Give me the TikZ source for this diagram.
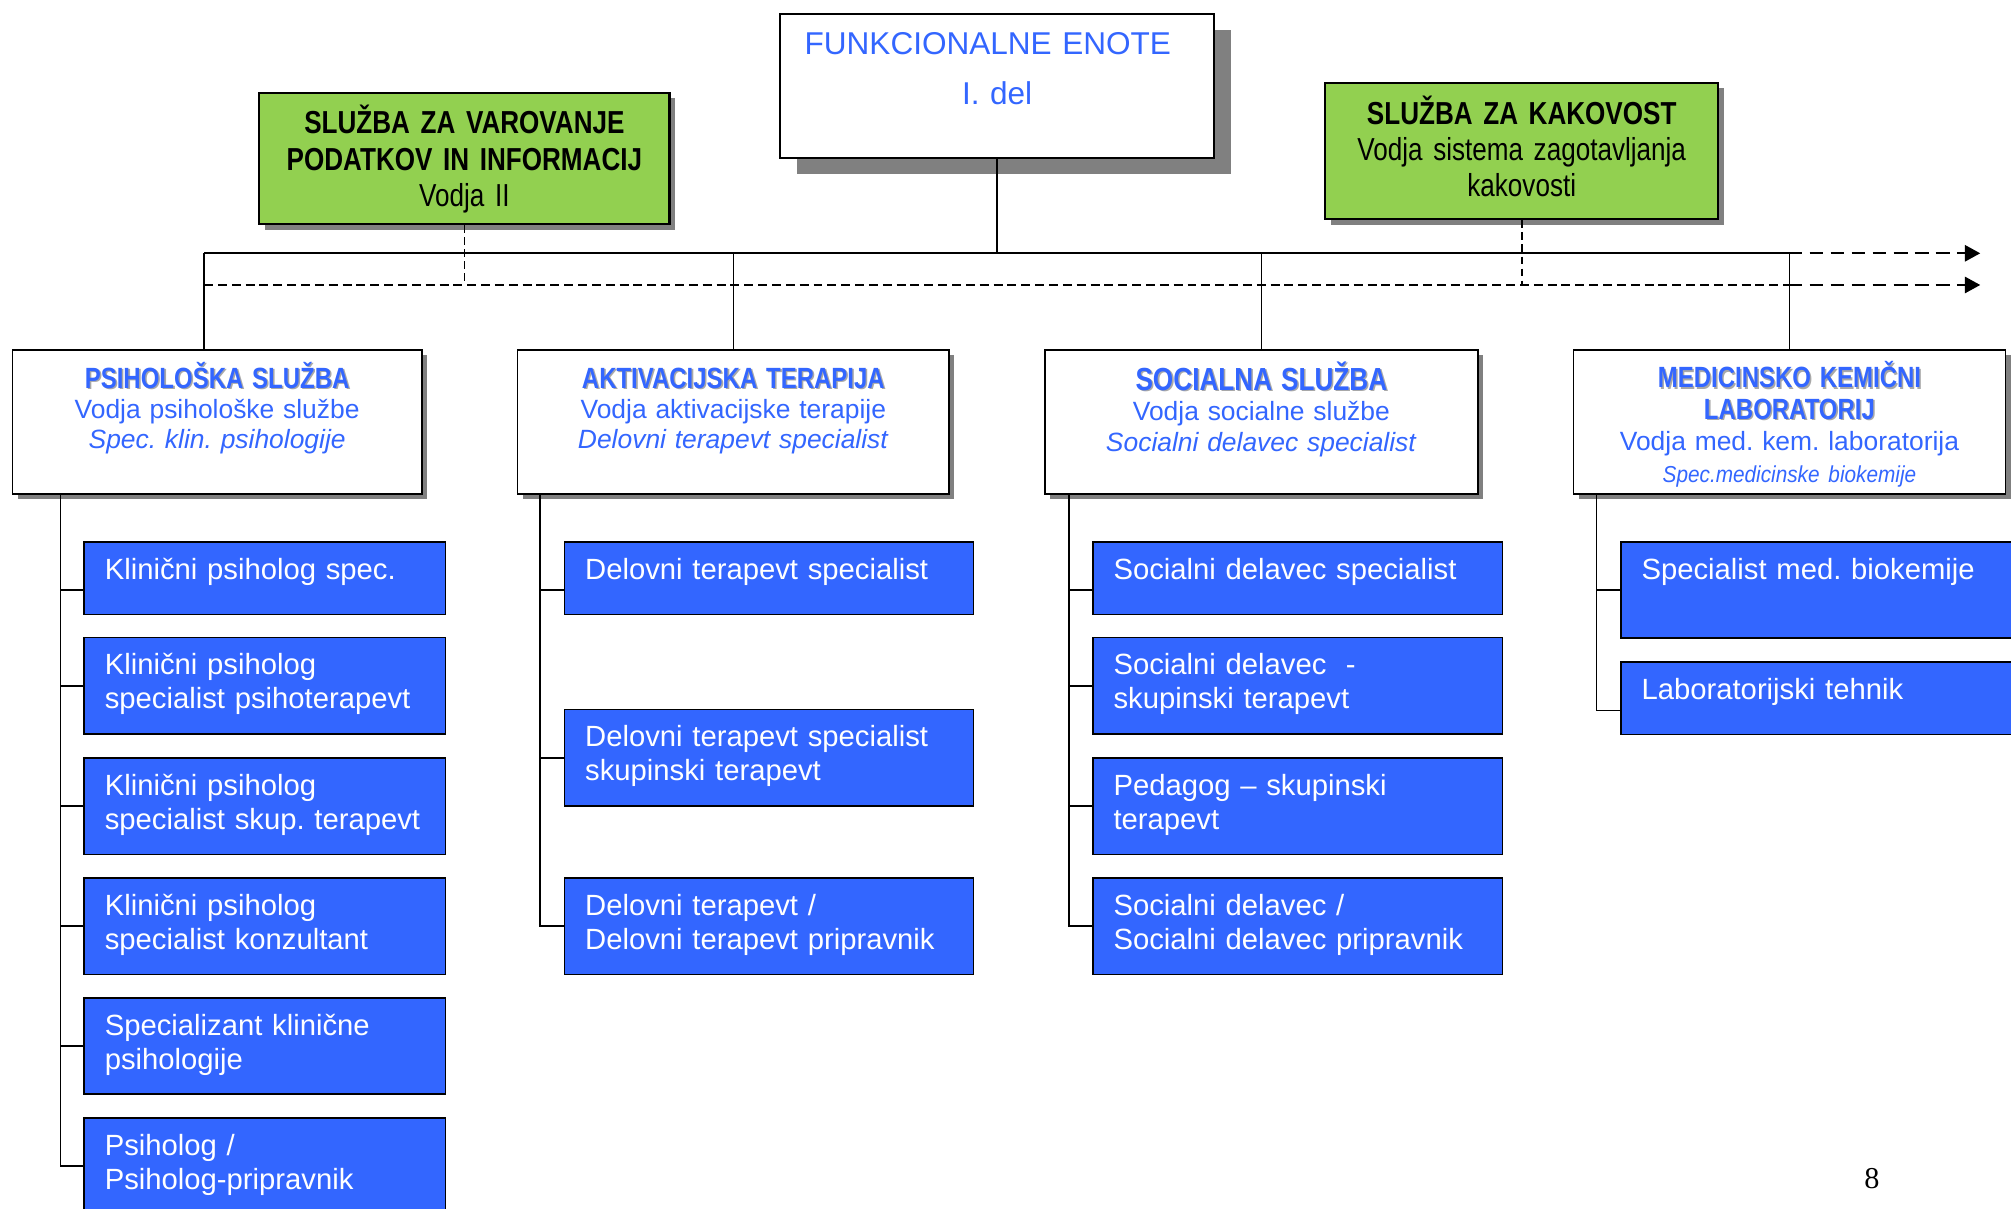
\documentclass[tikz,border=0pt]{standalone}
\usepackage{fontspec}
\setmainfont{Liberation Sans}
\newfontfamily\narrowf[FakeStretch=0.82,WordSpace=0.8]{Liberation Sans}
\newfontfamily\semin[FakeStretch=0.9,WordSpace=0.85]{Liberation Sans}
\newfontfamily\serifpg{Liberation Serif}
\usetikzlibrary{arrows.meta,shadows}
\definecolor{boxblue}{HTML}{3366FF}
\definecolor{txtblue}{HTML}{3366FF}
\definecolor{grnfill}{HTML}{92D050}
\definecolor{shgray}{HTML}{808080}
\definecolor{tshgray}{HTML}{A8A8A8}
\frenchspacing
\hyphenpenalty=10000
\exhyphenpenalty=10000
\hbadness=10000
\hfuzz=50pt
\newcommand\tshad[1]{\leavevmode\rlap{\kern0.6pt\raisebox{-0.6pt}{\textcolor{tshgray}{#1}}}#1}
\newcommand\ttl{\narrowf\bfseries\fontsize{11.4pt}{11.75pt}\selectfont}
\newcommand\ttlbig{\narrowf\bfseries\fontsize{12.45pt}{12pt}\selectfont}
\begin{document}
\begin{tikzpicture}[x=0.5pt,y=-0.5pt,
  conn/.style={line width=0.65pt},
  shortdash/.style={dash pattern=on 3.5pt off 1.9pt},
  longdash/.style={dash pattern=on 5.4pt off 2.8pt},
  vdash/.style={dash pattern=on 2.9pt off 1.8pt},
  arr/.style={-{Triangle[length=6pt,width=6.4pt]}},
  funkbox/.style={draw=black, line width=0.8pt, fill=white, anchor=north west,
    inner sep=0pt, align=center, text=txtblue,
    font=\fontsize{12.3pt}{19.5pt}\selectfont,
    drop shadow={shadow xshift=6.5pt, shadow yshift=-6.5pt, fill=shgray, opacity=1}},
  grnbox/.style={draw=black, line width=0.8pt, fill=grnfill, anchor=north west,
    inner sep=0pt, align=center, text=black,
    font=\narrowf\fontsize{12.4pt}{14.15pt}\selectfont,
    drop shadow={shadow xshift=2.2pt, shadow yshift=-2.2pt, fill=shgray, opacity=1}},
  deptbox/.style={draw=black, line width=0.7pt, fill=white, anchor=north west,
    inner sep=0pt, align=center, text=txtblue, minimum height=56.05pt,
    font=\fontsize{10.3pt}{11.75pt}\selectfont,
    drop shadow={shadow xshift=2pt, shadow yshift=-2pt, fill=shgray, opacity=1}},
  bluebox/.style={draw=black, line width=0.65pt, fill=boxblue, text=white,
    anchor=north west, inner xsep=8pt, inner ysep=0pt, align=left,
    font=\fontsize{11.4pt}{13.3pt}\selectfont, text height=14.5pt},
  colA/.style={minimum width=140.75pt, text width=124.75pt},
  colB/.style={minimum width=159.4pt, text width=143.4pt},
  colC/.style={minimum width=159.6pt, text width=143.6pt},
  colD/.style={minimum width=170pt, text width=154pt},
  oneh/.style={minimum height=28.25pt, text depth=13.75pt},
  twoh/.style={minimum height=37.6pt, text depth=23.1pt},
  medh/.style={minimum height=37.45pt, text depth=22.95pt}
]
\useasboundingbox (0,0) rectangle (1568,942);
\clip (0,0) rectangle (1568,942);

% top boxes
\node[funkbox, minimum width=169pt, text width=169pt, minimum height=56.15pt,
  text height=15.85pt, text depth=40.3pt] (funk) at (607.7,9.9)
  {FUNKCIONALNE ENOTE\kern7.3pt\\I. del};
\node[grnbox, minimum width=159.9pt, text width=159.9pt, minimum height=51.25pt,
  text height=16pt, text depth=35.25pt] (g1) at (201.4,71.5)
  {\textbf{SLUŽBA ZA VAROVANJE}\\\textbf{PODATKOV IN INFORMACIJ}\\Vodja II};
\node[grnbox, minimum width=153.1pt, text width=153.1pt, minimum height=53.25pt,
  text height=16.25pt, text depth=37pt] (g2) at (1032.6,63.7)
  {\textbf{SLUŽBA ZA KAKOVOST}\\Vodja sistema zagotavljanja\\kakovosti};

% department boxes
\node[deptbox, minimum width=159.6pt, text width=159.6pt, text height=15pt, text depth=41.05pt]
  (psih) at (9,272.1)
  {{\ttl\tshad{PSIHOLOŠKA SLUŽBA}}\\Vodja psihološke službe\\\textit{Spec. klin. psihologije}};
\node[deptbox, minimum width=168.3pt, text width=168.3pt, text height=15pt, text depth=41.05pt]
  (akt) at (402.8,272.1)
  {{\ttl\tshad{AKTIVACIJSKA TERAPIJA}}\\Vodja aktivacijske terapije\\\textit{Delovni terapevt specialist}};
\node[deptbox, minimum width=168.9pt, text width=168.9pt, text height=15.7pt, text depth=40.35pt,
  font=\fontsize{10.3pt}{12pt}\selectfont]
  (soc) at (813.9,272.1)
  {{\ttlbig\tshad{SOCIALNA SLUŽBA}}\\Vodja socialne službe\\\textit{Socialni delavec specialist}};
\node[deptbox, minimum width=168.45pt, text width=168.45pt, text height=14.7pt, text depth=41.35pt,
  font=\fontsize{10.3pt}{12.35pt}\selectfont]
  (med) at (1226.1,272.1)
  {{\ttl\tshad{MEDICINSKO KEMIČNI}}\\{\ttl\tshad{LABORATORIJ}}\\Vodja med. kem. laboratorija\\{\semin\itshape\fontsize{9pt}{12.35pt}\selectfont Spec.medicinske biokemije}};

% blue boxes column A
\node[bluebox, colA, oneh] (A1) at (65.1,421.9) {Klinični psiholog spec.};
\node[bluebox, colA, twoh] (A2) at (65.1,496.4) {Klinični psiholog\\specialist psihoterapevt};
\node[bluebox, colA, twoh] (A3) at (65.1,590.3) {Klinični psiholog\\specialist skup. terapevt};
\node[bluebox, colA, twoh] (A4) at (65.1,684) {Klinični psiholog\\specialist konzultant};
\node[bluebox, colA, twoh] (A5) at (65.1,777.4) {Specializant klinične\\psihologije};
\node[bluebox, colA, twoh] (A6) at (65.1,871.1) {Psiholog /\\Psiholog-pripravnik};
% column B
\node[bluebox, colB, oneh] (B1) at (439.6,421.9) {Delovni terapevt specialist};
\node[bluebox, colB, twoh] (B2) at (439.6,552.6) {Delovni terapevt specialist\\skupinski terapevt};
\node[bluebox, colB, twoh] (B3) at (439.6,684) {Delovni terapevt /\\Delovni terapevt pripravnik};
% column C
\node[bluebox, colC, oneh] (C1) at (851.6,421.9) {Socialni delavec specialist};
\node[bluebox, colC, twoh] (C2) at (851.6,496.4) {Socialni delavec~ -\\skupinski terapevt};
\node[bluebox, colC, twoh] (C3) at (851.6,590.3) {Pedagog – skupinski\\terapevt};
\node[bluebox, colC, twoh] (C4) at (851.6,684) {Socialni delavec /\\Socialni delavec pripravnik};
% column D
\node[bluebox, colD, medh] (D1) at (1263.3,421.9) {Specialist med. biokemije};
\node[bluebox, colD, oneh] (D2) at (1263.3,515.6) {Laboratorijski tehnik};

% page number
\node[font=\serifpg\fontsize{11.8pt}{12pt}\selectfont, anchor=base, inner sep=0pt] (pnum) at (1459.5,927) {8};

% bus coordinates
\coordinate (hL) at (159.1,197.5);
\coordinate (hM) at (1394.5,197.5);
\coordinate (hR) at (1544,197.5);
\coordinate (dL) at (159.1,222.2);
\coordinate (dM) at (1394.5,222.2);
\coordinate (dR) at (1544,222.2);

\draw[conn] (funk.south) -- (funk.south |- hL);
\draw[conn] (hL) -- (hM);
\draw[conn,longdash,arr] (hM) -- (hR);
\draw[conn,shortdash] (dL) -- (dM);
\draw[conn,longdash,arr] (dM) -- (dR);
\draw[conn,vdash] (g1.south) -- (g1.south |- dL);
\draw[conn,vdash] (g2.south) -- (g2.south |- dL);

\draw[conn] (hL) -- (hL |- psih.north);
\draw[conn] (akt.north |- hL) -- (akt.north);
\draw[conn] (soc.north |- hL) -- (soc.north);
\draw[conn] (med.north |- hL) -- (med.north);

% trunks
\path (psih.south west) ++(38.2,0) coordinate (tA);
\path (akt.south west) ++(18.4,0) coordinate (tB);
\path (soc.south west) ++(19.6,0) coordinate (tC);
\path (med.south west) ++(18.7,0) coordinate (tD);
\coordinate (A1c) at ([yshift=-4.6pt]A1.west);
\coordinate (B1c) at ([yshift=-4.6pt]B1.west);
\coordinate (C1c) at ([yshift=-4.6pt]C1.west);
\coordinate (D2c) at ([yshift=-4.7pt]D2.west);

\draw[conn] (tA) |- (A6.west);
\draw[conn] (tA |- A1c) -- (A1c);
\foreach \b in {A2,A3,A4,A5} \draw[conn] (tA |- \b.west) -- (\b.west);
\draw[conn] (tB) |- (B3.west);
\draw[conn] (tB |- B1c) -- (B1c);
\draw[conn] (tB |- B2.west) -- (B2.west);
\draw[conn] (tC) |- (C4.west);
\draw[conn] (tC |- C1c) -- (C1c);
\foreach \b in {C2,C3} \draw[conn] (tC |- \b.west) -- (\b.west);
\draw[conn] (tD) |- (D2c);
\draw[conn] (tD |- D1.west) -- (D1.west);
\end{tikzpicture}
\end{document}
